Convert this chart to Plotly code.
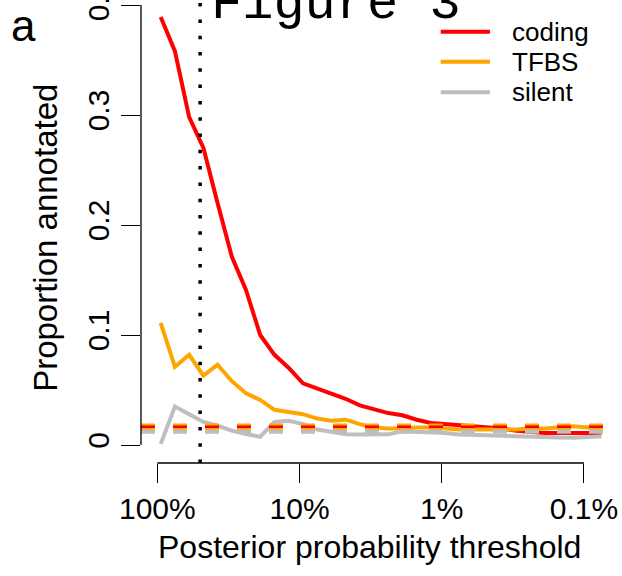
import plotly.graph_objects as go

# Posterior probability thresholds (percent), one per point
thresholds = [94.6, 75.2, 59.7, 47.4, 37.7, 29.9, 23.8, 18.9, 15.0, 11.9,
              9.46, 7.52, 5.97, 4.74, 3.77, 2.99, 2.38, 1.89, 1.50, 1.19,
              0.946, 0.752, 0.597, 0.474, 0.377, 0.299, 0.238, 0.189, 0.150, 0.119,
              0.0946, 0.0752]

coding = [0.389, 0.358, 0.298, 0.270, 0.220, 0.171, 0.141, 0.100, 0.082, 0.070,
          0.056, 0.0515, 0.047, 0.042, 0.036, 0.032, 0.029, 0.027, 0.023, 0.020,
          0.019, 0.018, 0.017, 0.016, 0.015, 0.013, 0.012, 0.011, 0.011, 0.011,
          0.011, 0.011]

tfbs = [0.111, 0.071, 0.082, 0.063, 0.073, 0.058, 0.047, 0.041, 0.032, 0.030,
        0.028, 0.024, 0.022, 0.023, 0.019, 0.016, 0.015, 0.015, 0.016, 0.016,
        0.015, 0.014, 0.014, 0.014, 0.014, 0.014, 0.015, 0.015, 0.016, 0.017,
        0.016, 0.016]

silent = [0.001, 0.035, 0.028, 0.021, 0.0175, 0.013, 0.010, 0.0075, 0.021, 0.022,
          0.019, 0.014, 0.012, 0.0097, 0.0095, 0.0095, 0.0097, 0.0125, 0.012, 0.0115,
          0.011, 0.0095, 0.009, 0.0085, 0.008, 0.0075, 0.0072, 0.007, 0.0068, 0.0067,
          0.0072, 0.008]

series_names = ["coding", "TFBS", "silent"]
series_colors = ["#FF0000", "#FFA500", "#BEBEBE"]
series_values = [coding, tfbs, silent]

# Background (genome-wide) proportions, drawn as dashed reference lines
baseline_values = {"silent": 0.0125, "TFBS": 0.0168, "coding": 0.0166}
baseline_widths = {"silent": 5, "TFBS": 6, "coding": 2.7}

cutoff = 50  # dotted vertical threshold (percent)

x_tickvals = [100, 10, 1, 0.1]
x_ticktext = ["100%", "10%", "1%", "0.1%"]
y_tickvals = [0, 0.1, 0.2, 0.3, 0.4]
y_ticktext = ["0", "0.1", "0.2", "0.3", "0.4"]

FONT = "Liberation Sans, Arial, Helvetica, sans-serif"

fig = go.Figure()
for name, color, vals in zip(series_names, series_colors, series_values):
    fig.add_trace(go.Scatter(x=thresholds, y=vals, mode="lines", name=name,
                             line=dict(color=color, width=4), showlegend=False))

shapes = []
for name in ["silent", "TFBS", "coding"]:
    color = series_colors[series_names.index(name)]
    shapes.append(dict(type="line", xref="paper", yref="y", x0=0, x1=1,
                       y0=baseline_values[name], y1=baseline_values[name],
                       line=dict(color=color, width=baseline_widths[name], dash="14px,18px"),
                       layer="above"))
# dotted cutoff line
shapes.append(dict(type="line", xref="x", yref="paper", x0=cutoff, x1=cutoff, y0=0, y1=1,
                   line=dict(color="black", width=3.5, dash="3.5px,12.8px"), layer="above"))
# axis lines spanning only the tick range (R style)
shapes.append(dict(type="line", xref="paper", yref="y", x0=0, x1=0, y0=0, y1=0.4,
                   line=dict(color="black", width=1.3)))
shapes.append(dict(type="line", xref="x", yref="paper", x0=100, x1=0.1, y0=0, y1=0,
                   line=dict(color="black", width=1.3)))

# manual legend
leg_y = [0.9315, 0.8667, 0.8006]
annotations = []
for name, color, yy in zip(series_names, series_colors, leg_y):
    shapes.append(dict(type="line", xref="paper", yref="paper", x0=0.627, x1=0.730,
                       y0=yy, y1=yy, line=dict(color=color, width=4)))
    annotations.append(dict(text=name, xref="paper", yref="paper", x=0.771, y=yy,
                            xanchor="left", yanchor="middle", showarrow=False,
                            font=dict(family=FONT, size=26, color="black")))

annotations += [
    dict(text="Posterior probability threshold", xref="paper", yref="paper",
         x=0.479, y=-0.181, xanchor="center", yanchor="middle", showarrow=False,
         font=dict(family=FONT, size=32, color="black")),
    dict(text="Proportion annotated", xref="paper", yref="paper",
         x=-0.199, y=0.486, xanchor="center", yanchor="middle", showarrow=False,
         textangle=-90, font=dict(family=FONT, size=33, color="black")),
    dict(text="a", xref="paper", yref="paper", x=-0.245, y=0.95, yshift=-2,
         xanchor="center", yanchor="middle", showarrow=False,
         font=dict(family=FONT, size=44, color="black")),
    dict(text="Figure 3", xref="paper", yref="paper", x=0.143, y=1.0, yshift=-4,
         xanchor="left", yanchor="middle", showarrow=False,
         font=dict(family="Liberation Mono, Courier New, monospace", size=52, color="black")),
]

fig.update_layout(
    width=622, height=576,
    margin=dict(l=141, r=3, t=0, b=113, pad=0, autoexpand=False),
    paper_bgcolor="white", plot_bgcolor="white",
    shapes=shapes, annotations=annotations,
    showlegend=False,
    xaxis=dict(type="log", range=[2.1146, -1.2462], tickvals=x_tickvals, ticktext=x_ticktext,
               ticks="outside", ticklen=19, tickwidth=1.3, tickcolor="black",
               showgrid=False, zeroline=False, showline=False, automargin=False,
               tickfont=dict(family=FONT, size=30, color="black")),
    yaxis=dict(range=[-0.01636, 0.40455], tickvals=y_tickvals, ticktext=y_ticktext,
               ticks="outside", ticklen=19, tickwidth=1.3, tickcolor="black",
               showgrid=False, zeroline=False, showline=False, tickangle=-90,
               ticklabeloverflow="allow", automargin=False,
               tickfont=dict(family=FONT, size=30, color="black")),
)

fig.write_html("out.html")
